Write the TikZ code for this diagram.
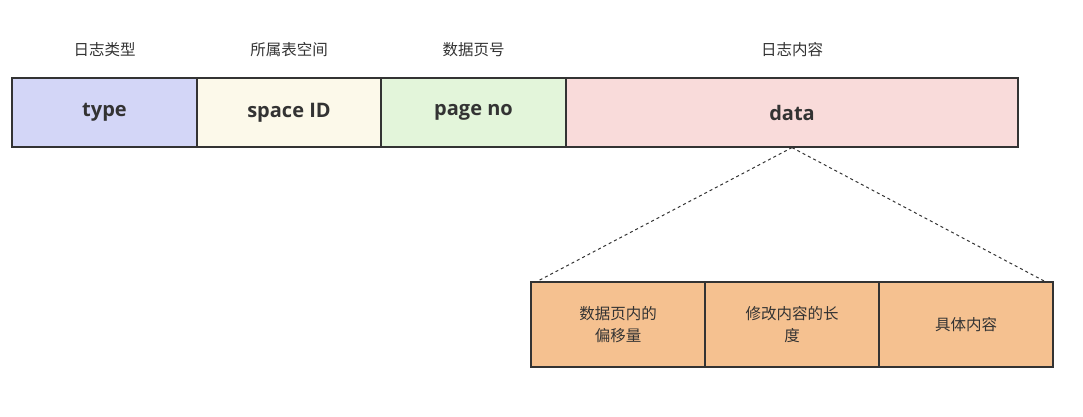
\documentclass[tikz,border=0pt]{standalone}
\usepackage{fontspec}
\setmainfont{Open Sans}
\newfontfamily\cjk{Noto Sans CJK SC}
\definecolor{ctype}{HTML}{D3D6F7}
\definecolor{cspace}{HTML}{FCF9EA}
\definecolor{cpage}{HTML}{E3F5DA}
\definecolor{cdata}{HTML}{F9DBDA}
\definecolor{cbot}{HTML}{F5C190}
\definecolor{cline}{HTML}{333333}
\begin{document}
\begin{tikzpicture}[x=1pt,y=-1pt,
  fld/.style={draw=cline,line width=1.2pt,minimum height=69pt,inner sep=0pt,font=\fontsize{20}{24}\selectfont\bfseries,text=cline},
  bot/.style={draw=cline,line width=1.2pt,fill=cbot,minimum height=85pt,minimum width=174pt,inner sep=0pt,align=center,font=\cjk\fontsize{15.5}{22}\selectfont,text=cline},
  lbl/.style={font=\cjk\fontsize{15.5}{18}\selectfont,text=cline}]
\useasboundingbox (0,0) rectangle (1083,416);
\node[fld,fill=ctype,minimum width=185pt] (t) at (104.5,112.5) {type};
\node[fld,fill=cspace,minimum width=184pt] (s) at (289,112.5) {space ID};
\node[fld,fill=cpage,minimum width=185pt] (p) at (473.5,112.5) {page no};
\node[fld,fill=cdata,minimum width=452pt] (d) at (792,112.5) {data};
\node[lbl] (lt) at (104.5,50) {日志类型};
\node[lbl] (ls) at (289,50) {所属表空间};
\node[lbl] (lp) at (473.5,50) {数据页号};
\node[lbl] (ld) at (792,50) {日志内容};
\node[bot] (b1) at (618,324.5) {数据页内的\\偏移量};
\node[bot] (b2) at (792,324.5) {修改内容的长\\度};
\node[bot] (b3) at (966,324.5) {具体内容};
\coordinate (l) at (536,282);
\coordinate (r) at (1046,282);
\draw[cline,dashed,line width=1pt] (d.south) -- (l);
\draw[cline,dashed,line width=1pt] (d.south) -- (r);
\end{tikzpicture}
\end{document}
